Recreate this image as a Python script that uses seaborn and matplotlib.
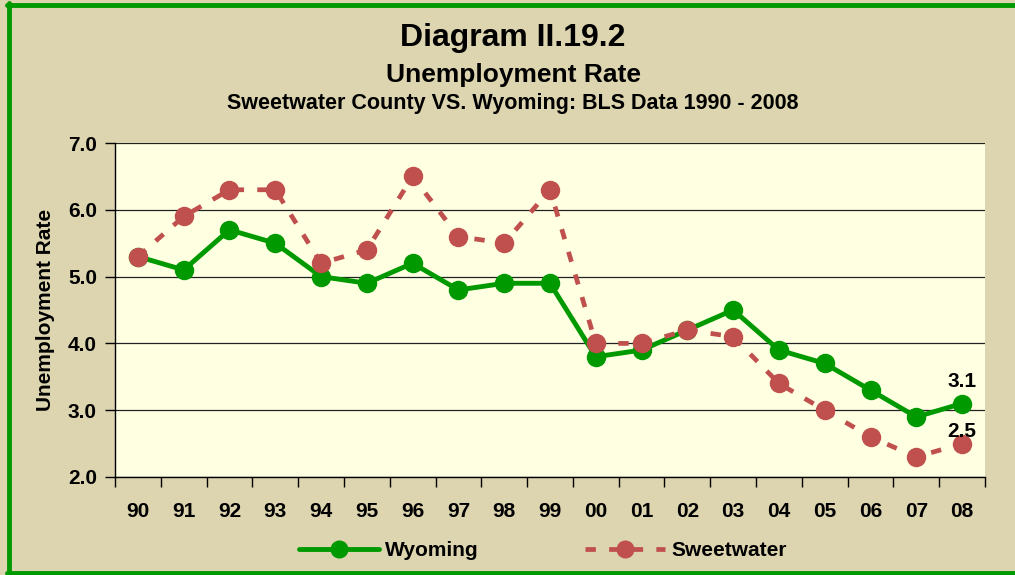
import matplotlib
matplotlib.use("Agg")
import matplotlib.pyplot as plt
import seaborn as sns
import pandas as pd
import numpy as np
from matplotlib.lines import Line2D

years = ["90", "91", "92", "93", "94", "95", "96", "97", "98", "99",
         "00", "01", "02", "03", "04", "05", "06", "07", "08"]
wyoming = [5.3, 5.1, 5.7, 5.5, 5.0, 4.9, 5.2, 4.8, 4.9, 4.9,
           3.8, 3.9, 4.2, 4.5, 3.9, 3.7, 3.3, 2.9, 3.1]
sweetwater = [5.3, 5.9, 6.3, 6.3, 5.2, 5.4, 6.5, 5.6, 5.5, 6.3,
              4.0, 4.0, 4.2, 4.1, 3.4, 3.0, 2.6, 2.3, 2.5]
yticks = [2.0, 3.0, 4.0, 5.0, 6.0, 7.0]

sns.set_theme(style="white")
plt.rcParams['font.family'] = ['Liberation Sans', 'DejaVu Sans']
plt.rcParams['font.weight'] = 'bold'
for k in ['text.color', 'axes.labelcolor', 'xtick.color', 'ytick.color']:
    plt.rcParams[k] = 'black'

BG = "#DDD5AF"
PLOT_BG = "#FFFFE1"
GREEN = "#009900"
RED = "#C0504D"

fig = plt.figure(figsize=(10.15, 5.75), dpi=100, facecolor=BG)
ax = fig.add_axes([115/1015, 1-477/575, 870/1015, 334/575])
ax.set_facecolor(PLOT_BG)

x = np.arange(len(years))
df = pd.DataFrame({"x": x, "Wyoming": wyoming, "Sweetwater": sweetwater})

sns.lineplot(data=df, x="x", y="Wyoming", ax=ax, color=GREEN, linewidth=3.5,
             marker="o", markersize=14, markeredgewidth=0, zorder=3)
sns.lineplot(data=df, x="x", y="Sweetwater", ax=ax, color=RED, linewidth=3.4,
             marker="o", markersize=14, markeredgewidth=0, zorder=4,
             dashes=False, linestyle=(0, (2.2, 2.8)))

ax.set_xlim(-0.5, len(years) - 0.5)
ax.set_ylim(2.0, 7.0)
ax.set_yticks(yticks)
ax.set_yticklabels([f"{v:.1f}" for v in yticks], fontsize=15, fontweight="bold")
ax.set_xticks(x)
ax.set_xticklabels(years, fontsize=15, fontweight="bold")
ax.set_xticks(np.arange(-0.5, len(years)), minor=True)
ax.tick_params(axis="x", which="major", length=0, pad=18)
ax.tick_params(axis="x", which="minor", length=7, width=1, color="black", direction="out", bottom=True)
ax.tick_params(axis="y", which="major", length=7, width=1, color="black", direction="out", left=True, pad=6)
ax.grid(axis="y", color="#222222", linewidth=0.9)
ax.grid(axis="x", visible=False)
for s in ["left", "bottom"]:
    ax.spines[s].set_visible(True)
    ax.spines[s].set_color("black")
    ax.spines[s].set_linewidth(1)
ax.spines["right"].set_visible(False)
ax.spines["top"].set_visible(False)
ax.set_xlabel("")
ax.set_ylabel("Unemployment Rate", fontsize=15, fontweight="bold", labelpad=9)

# data labels for last points
ax.annotate(f"{wyoming[-1]:.1f}", (x[-1], wyoming[-1]), xytext=(0, 12),
            textcoords="offset points", ha="center", va="baseline",
            fontsize=15, fontweight="bold", zorder=5)
ax.annotate(f"{sweetwater[-1]:.1f}", (x[-1], sweetwater[-1]), xytext=(0, 5),
            textcoords="offset points", ha="center", va="baseline",
            fontsize=15, fontweight="bold", zorder=5)

# Titles
fig.text(0.5055, 1-38/575, "Diagram II.19.2", ha="center", va="center",
         fontsize=23, fontweight="bold")
fig.text(0.5055, 1-75/575, "Unemployment Rate", ha="center", va="center",
         fontsize=19, fontweight="bold")
fig.text(0.5055, 1-104/575, "Sweetwater County VS. Wyoming: BLS Data 1990 - 2008",
         ha="center", va="center", fontsize=15.5, fontweight="bold")

# Legend
h1 = Line2D([], [], color=GREEN, linewidth=3.5, marker="o", markersize=13,
            markeredgewidth=0)
h2 = Line2D([], [], color=RED, linewidth=3.4, marker="o", markersize=13,
            markeredgewidth=0, linestyle=(0, (2.2, 2.8)))
leg = fig.legend([h1, h2], ["Wyoming", "Sweetwater"], loc="center",
                 bbox_to_anchor=(0.535, 1-551/575), ncol=2, frameon=False,
                 handlelength=3.85, columnspacing=5.1, handletextpad=0.3,
                 prop={"size": 15, "weight": "bold"})

# Green border (left, top, bottom)
fig.add_artist(Line2D([9/1015, 9/1015], [0, 1-3/575], color=GREEN, linewidth=3.5,
                      transform=fig.transFigure))
fig.add_artist(Line2D([7/1015, 1], [1-5/575, 1-5/575], color=GREEN, linewidth=3.5,
                      transform=fig.transFigure))
fig.add_artist(Line2D([7/1015, 1], [1-573/575, 1-573/575], color=GREEN, linewidth=3.5,
                      transform=fig.transFigure))

fig.savefig("out.png", dpi=100, facecolor=BG)
